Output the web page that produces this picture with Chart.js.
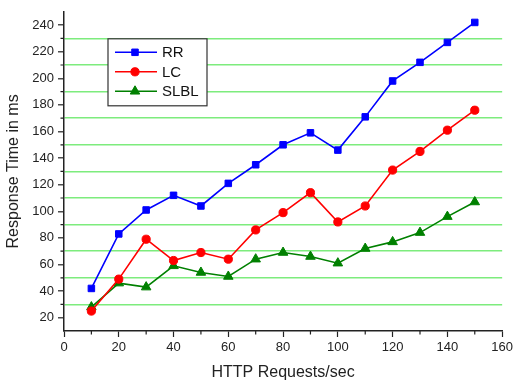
<!DOCTYPE html>
<html>
<head>
<meta charset="utf-8">
<script src="https://cdn.jsdelivr.net/npm/chart.js@4/dist/chart.umd.min.js"></script>
<style>
html, body { margin: 0; background: #fff; }
#wrap { width: 516px; height: 383px; }
</style>
</head>
<body>
<div id="wrap"><canvas id="chart"></canvas></div>
<script>
// values
const requests = [10, 20, 30, 40, 50, 60, 70, 80, 90, 100, 110, 120, 130, 140, 150];
const rrTimes = [42, 83, 101, 112, 104, 121, 135, 150, 159, 146, 171, 198, 212, 227, 242];
const lcTimes = [25, 49, 79, 63, 69, 64, 86, 99, 114, 92, 104, 131, 145, 161, 176];
const slblTimes = [28, 46, 43, 59, 54, 51, 64, 69, 66, 61, 72, 77, 84, 96, 107];
const seriesNames = ["RR", "LC", "SLBL"];
const xTickLabels = [0, 20, 40, 60, 80, 100, 120, 140, 160];
const yTickLabels = [20, 40, 60, 80, 100, 120, 140, 160, 180, 200, 220, 240];

const FONT = "'Liberation Sans', Arial, sans-serif";
const GRID_GREEN = "#7dec7d";

function pairs(ys) {
  return requests.map((x, i) => ({ x: x, y: ys[i] }));
}

function series(name, ys, color, style, r) {
  return {
    label: name,
    data: pairs(ys),
    borderColor: color,
    backgroundColor: color,
    borderWidth: 1.6,
    pointStyle: style,
    pointRadius: r,
    pointBorderWidth: 1,
    pointBackgroundColor: color,
    pointBorderColor: color,
    tension: 0
  };
}

function markerPath(ctx, style, x, y, r) {
  ctx.beginPath();
  if (style === "rect") {
    const s = r * Math.SQRT1_2;
    ctx.rect(x - s, y - s, 2 * s, 2 * s);
  } else if (style === "triangle") {
    ctx.moveTo(x, y - r);
    ctx.lineTo(x + r * 0.866, y + r * 0.5);
    ctx.lineTo(x - r * 0.866, y + r * 0.5);
    ctx.closePath();
  } else {
    ctx.arc(x, y, r, 0, Math.PI * 2);
  }
}

// boxed legend with line + marker samples, like the original
const boxLegend = {
  id: "boxLegend",
  afterDatasetsDraw(chart) {
    const ctx = chart.ctx;
    const a = chart.chartArea;
    const x0 = a.left + 44, y0 = a.top + 27, w = 99, h = 67;
    ctx.save();
    ctx.fillStyle = "#fff";
    ctx.fillRect(x0, y0, w, h);
    ctx.strokeStyle = "#333";
    ctx.lineWidth = 1.2;
    ctx.strokeRect(x0, y0, w, h);
    ctx.font = "15px " + FONT;
    ctx.textBaseline = "middle";
    chart.data.datasets.forEach((ds, i) => {
      const cy = y0 + 13.5 + i * 19.5;
      ctx.strokeStyle = ds.borderColor;
      ctx.fillStyle = ds.borderColor;
      ctx.lineWidth = 1.6;
      ctx.beginPath();
      ctx.moveTo(x0 + 7, cy);
      ctx.lineTo(x0 + 49, cy);
      ctx.stroke();
      markerPath(ctx, ds.pointStyle, x0 + 27, cy, ds.pointRadius);
      ctx.fill();
      ctx.lineWidth = 1;
      ctx.stroke();
      ctx.fillStyle = "#111";
      ctx.fillText(ds.label, x0 + 54, cy + 1);
    });
    ctx.restore();
  }
};

// short minor ticks between labelled ticks
const minorTicks = {
  id: "minorTicks",
  afterDraw(chart) {
    const ctx = chart.ctx;
    const xs = chart.scales.x, ys = chart.scales.y;
    ctx.save();
    ctx.strokeStyle = "#222";
    ctx.lineWidth = 1.2;
    ctx.beginPath();
    xs.ticks.forEach(t => {
      if (xTickLabels.includes(t.value)) return;
      const px = xs.getPixelForValue(t.value);
      ctx.moveTo(px, xs.top);
      ctx.lineTo(px, xs.top + 3.5);
    });
    ys.ticks.forEach(t => {
      if (yTickLabels.includes(t.value) || t.value === ys.min || t.value === ys.max) return;
      const py = ys.getPixelForValue(t.value);
      ctx.moveTo(ys.right, py);
      ctx.lineTo(ys.right - 3.5, py);
    });
    ctx.stroke();
    ctx.restore();
  }
};

new Chart(document.getElementById("chart"), {
  type: "line",
  data: {
    datasets: [
      series(seriesNames[0], rrTimes, "#0000ff", "rect", 4.6),
      series(seriesNames[1], lcTimes, "#ff0000", "circle", 4.1),
      series(seriesNames[2], slblTimes, "#008000", "triangle", 5.5)
    ]
  },
  options: {
    responsive: true,
    maintainAspectRatio: false,
    animation: false,
    layout: { padding: { top: 6, right: 11, left: 0, bottom: 0 } },
    plugins: {
      legend: { display: false },
      tooltip: { enabled: false }
    },
    scales: {
      x: {
        type: "linear",
        min: 0,
        max: 160,
        afterFit(scale) { scale.height = 52; },
        border: { color: "#222", width: 1.5 },
        grid: {
          drawOnChartArea: false,
          tickLength: 6,
          tickWidth: 1.2,
          tickColor: c => xTickLabels.includes(c.tick.value) ? "#222" : "rgba(0,0,0,0)"
        },
        ticks: {
          stepSize: 10,
          autoSkip: false,
          maxRotation: 0,
          padding: 3,
          color: "#222",
          font: { family: FONT, size: 13 },
          callback: v => xTickLabels.includes(v) ? String(v) : ""
        },
        title: {
          display: true,
          text: "HTTP Requests/sec",
          color: "#222",
          font: { family: FONT, size: 16 },
          padding: { top: 0, bottom: 1 }
        }
      },
      y: {
        type: "linear",
        min: 10,
        max: 250,
        afterFit(scale) { scale.width = 64; },
        border: { color: "#222", width: 1.5 },
        grid: {
          lineWidth: 1.6,
          color: c => {
            const v = c.tick.value;
            return (v % 20 === 10 && v >= 30 && v <= 230) ? GRID_GREEN : "rgba(0,0,0,0)";
          },
          tickLength: 6,
          tickWidth: 1.2,
          tickColor: c => yTickLabels.includes(c.tick.value) ? "#222" : "rgba(0,0,0,0)"
        },
        ticks: {
          stepSize: 10,
          autoSkip: false,
          padding: 4,
          color: "#222",
          font: { family: FONT, size: 13 },
          callback: v => yTickLabels.includes(v) ? String(v) : ""
        },
        title: {
          display: true,
          text: "Response Time in ms",
          color: "#222",
          font: { family: FONT, size: 16 },
          padding: { top: 4, bottom: 0 }
        }
      }
    }
  },
  plugins: [boxLegend, minorTicks]
});
</script>
</body>
</html>
